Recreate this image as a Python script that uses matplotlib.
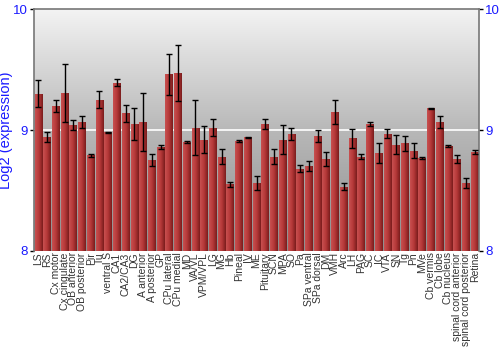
import numpy as np
import matplotlib
matplotlib.use("Agg")
import matplotlib.pyplot as plt
from matplotlib.colors import LinearSegmentedColormap

plt.rcParams['font.family'] = ['Liberation Sans', 'DejaVu Sans']

regions = ["LS", "RS", "Cx motor", "Cx cingulate", "OB anterior", "OB posterior",
           "Pir", "Tu", "ventral S", "CA1", "CA2/CA3", "DG", "A anterior",
           "A posterior", "GP", "CPu lateral", "CPu medial", "MD", "VA/VL",
           "VPM/VPL", "LG", "MG", "Hb", "Pineal", "IV", "ME", "Pituitary", "SCN",
           "MPA", "SO", "Pa", "SPa ventral", "SPa dorsal", "DM", "VMH", "Arc",
           "LH", "PAG", "SC", "IC", "VTA", "SN", "Tg", "Pn", "MVe", "Cb vermis",
           "Cb lobe", "Cb nucleus", "spinal cord anterior", "spinal cord posterior",
           "Retina"]
expr = [9.30, 8.94, 9.20, 9.31, 9.04, 9.07, 8.79, 9.25, 8.98, 9.39, 9.14, 9.05,
        9.07, 8.75, 8.86, 9.46, 9.47, 8.90, 9.02, 8.92, 9.02, 8.78, 8.55, 8.91,
        8.94, 8.56, 9.05, 8.78, 8.92, 8.97, 8.68, 8.70, 8.95, 8.76, 9.15, 8.53,
        8.93, 8.78, 9.05, 8.81, 8.97, 8.88, 8.89, 8.83, 8.77, 9.18, 9.07, 8.87,
        8.76, 8.56, 8.82]
err = [0.11, 0.04, 0.05, 0.24, 0.04, 0.05, 0.01, 0.07, 0.005, 0.03, 0.07, 0.13,
       0.24, 0.05, 0.02, 0.17, 0.23, 0.01, 0.23, 0.11, 0.07, 0.06, 0.02, 0.005,
       0.005, 0.06, 0.04, 0.06, 0.12, 0.05, 0.03, 0.04, 0.05, 0.06, 0.10, 0.03,
       0.08, 0.02, 0.02, 0.08, 0.035, 0.08, 0.06, 0.065, 0.01, 0.005, 0.05, 0.01,
       0.03, 0.04, 0.015]
yticks = [8, 9, 10]

fig = plt.figure(figsize=(5, 3.5), dpi=100)
ax = fig.add_axes([0.068, 0.283, 0.89, 0.691])

n = len(regions)
x = np.arange(n)

# background gradient
bg = LinearSegmentedColormap.from_list("bg", ["#8e8e8e", "#b8b8b8", "#f3f3f3"])
grad = np.linspace(0, 1, 256).reshape(-1, 1)
ax.imshow(grad, cmap=bg, aspect='auto', origin='lower',
          extent=[-0.5, n - 0.5, 8, 10], zorder=0)
ax.axhline(9, color='white', lw=1.2, zorder=1)

bars = ax.bar(x, np.array(expr) - 8, bottom=8, width=0.88, color='#b03535',
              linewidth=0, zorder=2)
barcm = LinearSegmentedColormap.from_list("bar", ["#c85050", "#b53838", "#7a1c1c"])
hgrad = np.linspace(0, 1, 64).reshape(1, -1)
for b in bars:
    im = ax.imshow(hgrad, cmap=barcm, aspect='auto',
                   extent=[b.get_x(), b.get_x() + b.get_width(), 8, b.get_height() + 8],
                   zorder=2.5)
    im.set_clip_path(b)
ax.set_xlim(-0.5, n - 0.5)
ax.set_ylim(8, 10)

ax.errorbar(x, expr, yerr=err, fmt='none', ecolor='black', elinewidth=1,
            capsize=2, capthick=1, zorder=3)

ax.set_xticks(x)
ax.set_xticklabels(regions, rotation=90, fontsize=7.5, color='#333333')
ax.tick_params(axis='x', length=0, pad=1)
ax.set_yticks(yticks)
ax.tick_params(axis='y', colors='#1a1aff', labelsize=9.5, length=3, width=1,
               color='black', pad=1.5, right=True, labelright=True)
ax.set_ylabel("Log2 (expression)", color='#1a1aff', fontsize=10.5, labelpad=0)

for s in ['left', 'right', 'top']:
    ax.spines[s].set_color('#777777')
    ax.spines[s].set_linewidth(1.2)
ax.spines['bottom'].set_visible(False)

fig.savefig("out.png", dpi=100)
